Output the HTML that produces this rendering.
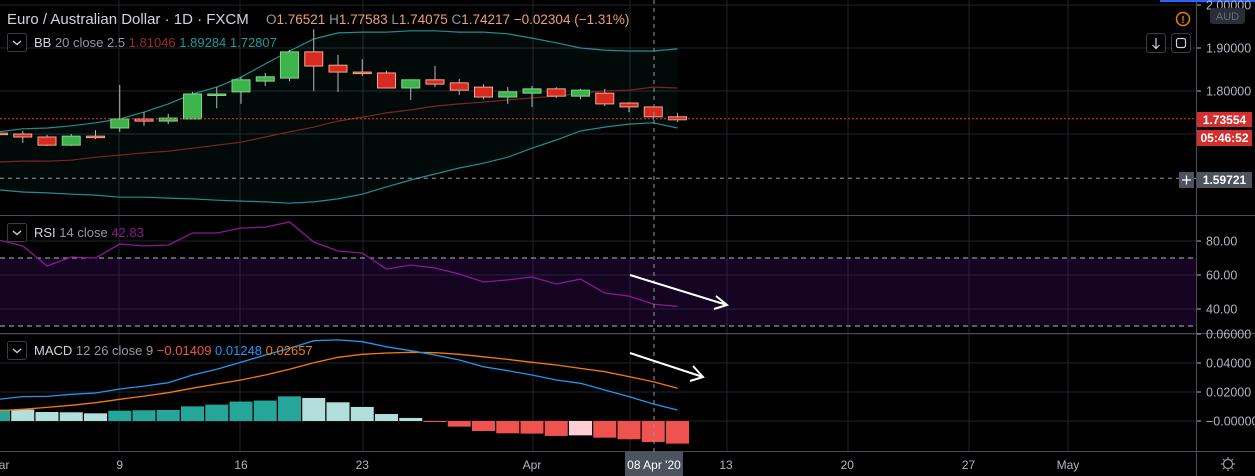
<!DOCTYPE html>
<html><head><meta charset="utf-8"><style>
html,body{margin:0;padding:0;background:#000;width:1255px;height:476px;overflow:hidden;font-family:"Liberation Sans",sans-serif}
svg{display:block}
text{font-family:"Liberation Sans",sans-serif}
</style></head><body>
<svg id="chart" width="1255" height="476" xmlns="http://www.w3.org/2000/svg">
<rect x="0" y="0" width="1255" height="476" fill="#000"/>
<g id="grid"></g>
<g id="main"></g>
<g id="rsi"></g>
<g id="macd"></g>
<g id="overlay"></g>
</svg>
<script>
const opens  = [1.702,1.700,1.693,1.674,1.695,1.714,1.735,1.730,1.735,1.791,1.798,1.823,1.830,1.891,1.860,1.844,1.842,1.807,1.826,1.819,1.809,1.786,1.795,1.805,1.788,1.795,1.772,1.763,1.740];
const highs  = [1.705,1.707,1.698,1.700,1.709,1.814,1.751,1.747,1.798,1.809,1.833,1.842,1.895,1.944,1.884,1.874,1.847,1.826,1.858,1.828,1.816,1.809,1.812,1.809,1.805,1.805,1.774,1.763,1.749];
const lows   = [1.700,1.679,1.672,1.672,1.688,1.705,1.719,1.723,1.735,1.760,1.770,1.812,1.823,1.800,1.798,1.835,1.807,1.779,1.809,1.791,1.781,1.770,1.763,1.784,1.781,1.765,1.751,1.733,1.728];
const closes = [1.701,1.693,1.674,1.695,1.694,1.735,1.730,1.737,1.793,1.793,1.826,1.833,1.891,1.858,1.844,1.842,1.807,1.826,1.816,1.802,1.786,1.798,1.805,1.788,1.802,1.770,1.763,1.740,1.733];
const bbUpper = [1.705,1.712,1.714,1.719,1.726,1.735,1.751,1.770,1.793,1.809,1.832,1.863,1.893,1.921,1.935,1.937,1.937,1.940,1.940,1.937,1.937,1.933,1.923,1.912,1.900,1.895,1.893,1.893,1.898];
const bbMiddle = [1.635,1.637,1.637,1.639,1.646,1.651,1.656,1.660,1.667,1.674,1.681,1.693,1.705,1.716,1.730,1.739,1.749,1.756,1.765,1.770,1.774,1.779,1.784,1.788,1.795,1.800,1.802,1.809,1.807];
const bbLower = [1.570,1.565,1.563,1.560,1.558,1.553,1.553,1.551,1.549,1.546,1.544,1.542,1.539,1.542,1.549,1.560,1.577,1.593,1.607,1.621,1.632,1.646,1.667,1.686,1.707,1.716,1.723,1.726,1.714];
const rsiValues = [80.6,77.1,65.3,70.6,70.0,78.2,77.1,77.6,84.7,84.7,87.6,88.2,91.2,79.4,74.1,72.9,63.5,65.9,64.1,60.6,55.9,57.1,58.8,54.7,57.6,49.4,47.6,42.9,41.5];
const macdLine = [0.0150,0.0168,0.0170,0.0184,0.0193,0.0221,0.0241,0.0264,0.0317,0.0357,0.0405,0.0455,0.0501,0.0554,0.0559,0.0547,0.0512,0.0485,0.0455,0.0421,0.0374,0.0347,0.0317,0.0283,0.0260,0.0214,0.0168,0.0117,0.0076];
const signalLine = [0.0071,0.0081,0.0094,0.0108,0.0126,0.0150,0.0172,0.0195,0.0226,0.0255,0.0283,0.0317,0.0357,0.0402,0.0439,0.0460,0.0469,0.0474,0.0471,0.0460,0.0443,0.0425,0.0405,0.0386,0.0363,0.0340,0.0306,0.0271,0.0226];
const histValues = [0.0079,0.0079,0.0062,0.0060,0.0053,0.0071,0.0074,0.0076,0.0101,0.0113,0.0134,0.0141,0.0170,0.0159,0.0129,0.0097,0.0048,0.0021,-0.0004,-0.0039,-0.0069,-0.0085,-0.0087,-0.0103,-0.0099,-0.0115,-0.0126,-0.0145,-0.0156];
const priceTicks = ["2.00000","1.90000","1.80000"];
const priceTickValues = [2.0,1.9,1.8,1.7];
const rsiTicks = ["80.00","60.00","40.00"];
const rsiTickValues = [80,60,40];
const macdTicks = ["0.06000","0.04000","0.02000","\u22120.00000"];
const macdTickValues = [0.06,0.04,0.02,0];
const timeLabels = ["ar","9","16","23","Apr","13","20","27","May"];
const timeDayIndex = [0,5,10,15,22,30,35,40,44.1];

const NS="http://www.w3.org/2000/svg";
const PLOT_R=1196;
const xB = i => 119.75 + (i-5)*24.25;
const yP = p => 48 + (1.9-p)*430;
const yR = v => 275 + (60-v)*1.7;
const yM = v => 421 - v*1450;
function mk(parent,tag,attrs,name,inter){
  const el=document.createElementNS(NS,tag);
  for(const k in attrs) el.setAttribute(k,attrs[k]);
  
  
  document.getElementById(parent).appendChild(el);
  return el;
}
function txt(parent,x,y,s,fill,size,name,anchor){
  const t=mk(parent,'text',{x:x,y:y,fill:fill,'font-size':size,'text-anchor':anchor||'start'},name,false);
  t.textContent=s; return t;
}
const line=(p,x1,y1,x2,y2,st,w,name,dash)=>{const a={x1:x1,y1:y1,x2:x2,y2:y2,stroke:st,'stroke-width':w||1};if(dash)a['stroke-dasharray']=dash;return mk(p,'line',a,name,false);};
const poly=(arr,yf)=>arr.map((v,i)=>xB(i).toFixed(1)+','+yf(v).toFixed(1)).join(' ');

// grid
const gridC="#22252d";
[119,240,363,533,630,727,848,969,1068].forEach(x=>line('grid',x,0,x,451,gridC,1,'v-grid'));
priceTickValues.forEach(v=>line('grid',0,yP(v),PLOT_R,yP(v),gridC,1,'price-grid'));
rsiTickValues.forEach(v=>line('grid',0,yR(v),PLOT_R,yR(v),gridC,1,'rsi-grid'));
macdTickValues.forEach(v=>line('grid',0,yM(v),PLOT_R,yM(v),gridC,1,'macd-grid'));

// BB fill
const fillPts = poly(bbUpper,yP)+' '+bbLower.map((v,i)=>i).reverse().map(i=>xB(i).toFixed(1)+','+yP(bbLower[i]).toFixed(1)).join(' ');
mk('main','polygon',{points:fillPts,fill:'rgba(38,166,154,0.06)'},'bb-fill',false);
mk('main','polyline',{points:poly(bbUpper,yP),fill:'none',stroke:'#1e8f8f','stroke-width':1.2},'bb-upper',false);
mk('main','polyline',{points:poly(bbLower,yP),fill:'none',stroke:'#1e8f8f','stroke-width':1.2},'bb-lower',false);
mk('main','polyline',{points:poly(bbMiddle,yP),fill:'none',stroke:'#7a2424','stroke-width':1.2},'bb-basis',false);
line('main',0,yP(1.59721),PLOT_R,yP(1.59721),'#9598a1',1,'horizontal-level-line','4,4');

// candles
for(let i=0;i<opens.length;i++){
  const up=closes[i]>=opens[i];
  const x=xB(i);
  line('main',x,yP(highs[i]),x,yP(lows[i]),'#b7b7b7',1,'candle-wick');
  const top=yP(Math.max(opens[i],closes[i])), bot=yP(Math.min(opens[i],closes[i]));
  mk('main','rect',{x:x-9,y:top,width:18,height:Math.max(bot-top,1.5),fill:up?'#3cb44b':'#d92a22',stroke:up?'#7fd68a':'#f5a58a','stroke-width':1},'candle',true);
}
line('main',0,yP(1.73554),PLOT_R,yP(1.73554),'#e53935',1,'last-price-line','2,2');

// RSI
mk('rsi','rect',{x:0,y:yR(70),width:PLOT_R,height:yR(30)-yR(70),fill:'rgba(90,20,150,0.22)'},'rsi-band',false);
line('rsi',0,yR(70),PLOT_R,yR(70),'#b0b3bb',1,'rsi-upper-band','5,4');
line('rsi',0,yR(30),PLOT_R,yR(30),'#b0b3bb',1,'rsi-lower-band','5,4');
mk('rsi','polyline',{points:poly(rsiValues,yR),fill:'none',stroke:'#8e1599','stroke-width':1.3},'rsi-line',false);

// MACD
histValues.forEach((v,i)=>{
  const prev=i>0?histValues[i-1]:v;
  let c;
  if(v>=0) c=(v>=prev&&i!==1)?'#26a69a':'#b2dfdb';
  else c=(v<=prev)?'#ef5350':'#ffcdd2';
  if(i===0) c='#26a69a';
  const y0=yM(0), y1=yM(v);
  const r=mk('macd','rect',{x:xB(i)-11.5,y:Math.min(y0,y1),width:23,height:Math.max(Math.abs(y1-y0),1)},'macd-histogram-bar',true);
  r.setAttribute('fill',c);
});
mk('macd','polyline',{points:poly(signalLine,yM),fill:'none',stroke:'#f57c00','stroke-width':1.3},'signal-line',false);
mk('macd','polyline',{points:poly(macdLine,yM),fill:'none',stroke:'#2196f3','stroke-width':1.3},'macd-line',false);

// pane separators and right axis
line('overlay',0,215.5,1255,215.5,'#4a4d56',1,'pane-separator');
line('overlay',0,333.5,1255,333.5,'#4a4d56',1,'pane-separator');
line('overlay',0,451.5,1255,451.5,'#4a4d56',1,'pane-separator');
line('overlay',1196.5,0,1196.5,476,'#4a4d56',1,'price-axis-border');
line('overlay',1160,1,1255,1,'#2962ff',2,'top-accent');
line('overlay',654,0,654,452,'#9598a1',1,'crosshair-vertical','4,4');

// axis labels
const axC="#b2b5be";
priceTickValues.slice(0,3).forEach((v,i)=>{line('overlay',1197,yP(v),1201,yP(v),axC,1,'price-tick');txt('overlay',1206,yP(v)+4.5,priceTicks[i],axC,12.5,'price-tick-label');});
rsiTickValues.forEach((v,i)=>{line('overlay',1197,yR(v),1201,yR(v),axC,1,'rsi-tick');txt('overlay',1206,yR(v)+4.5,rsiTicks[i],axC,12.5,'rsi-tick-label');});
macdTickValues.forEach((v,i)=>{line('overlay',1197,yM(v),1201,yM(v),axC,1,'macd-tick');txt('overlay',1206,yM(v)+4.5,macdTicks[i],axC,12.5,'macd-tick-label');});
timeLabels.forEach((s,i)=>txt('overlay',Math.max(xB(timeDayIndex[i]),4),469,s,axC,12,'time-label','middle'));
</script>
<svg width="1255" height="476" style="position:absolute;left:0;top:0" xmlns="http://www.w3.org/2000/svg">
<text x="7" y="24" fill="#d1d4dc" font-size="15">Euro / Australian Dollar · 1D · FXCM</text>
<text x="266" y="24" font-size="13.5"><tspan fill="#9598a1">O</tspan><tspan fill="#f0a070">1.76521 </tspan><tspan fill="#9598a1">H</tspan><tspan fill="#f0a070">1.77583 </tspan><tspan fill="#9598a1">L</tspan><tspan fill="#f0a070">1.74075 </tspan><tspan fill="#9598a1">C</tspan><tspan fill="#f0a070">1.74217 −0.02304 (−1.31%)</tspan></text>
<rect x="7.5" y="33.5" width="19" height="18" rx="2" fill="#000" stroke="#3a3d45"/>
<path d="M13 41 l4 3.5 l4 -3.5" fill="none" stroke="#d1d4dc" stroke-width="1.3"/>
<text x="34" y="47" font-size="13"><tspan fill="#d1d4dc">BB</tspan><tspan fill="#9598a1"> 20 close 2.5 </tspan><tspan fill="#9a2b2b"> 1.81046 </tspan><tspan fill="#1f9a9a"> 1.89284 1.72807</tspan></text>
<rect x="7.5" y="223.5" width="19" height="18" rx="2" fill="#000" stroke="#3a3d45"/>
<path d="M13 231 l4 3.5 l4 -3.5" fill="none" stroke="#d1d4dc" stroke-width="1.3"/>
<text x="34" y="237" font-size="13"><tspan fill="#d1d4dc">RSI</tspan><tspan fill="#9598a1"> 14 close </tspan><tspan fill="#8e1599"> 42.83</tspan></text>
<rect x="7.5" y="341.5" width="19" height="18" rx="2" fill="#000" stroke="#3a3d45"/>
<path d="M13 349 l4 3.5 l4 -3.5" fill="none" stroke="#d1d4dc" stroke-width="1.3"/>
<text x="34" y="355" font-size="13"><tspan fill="#d1d4dc">MACD</tspan><tspan fill="#9598a1"> 12 26 close 9 </tspan><tspan fill="#ef5350"> −0.01409 </tspan><tspan fill="#2196f3"> 0.01248 </tspan><tspan fill="#f57c00"> 0.02657</tspan></text>
<g stroke="#ffffff" stroke-width="2" fill="none"><path d="M630 275 L727 305"/><path d="M716 296 L727 305 L714 309"/></g>
<g stroke="#ffffff" stroke-width="2" fill="none"><path d="M630 353 L703 377"/><path d="M693 366 L703 377 L690 381"/></g>
<circle cx="1183" cy="19" r="6.5" fill="none" stroke="#f57c00" stroke-width="1.5"/>
<text x="1183" y="23" fill="#f57c00" font-size="10" font-weight="bold" text-anchor="middle">!</text>
<rect x="1210" y="8" width="35" height="16" rx="3" fill="#2a2e39"/>
<text x="1227.5" y="20" fill="#6a6d78" font-size="11" text-anchor="middle">AUD</text>
<rect x="1146.5" y="33.5" width="19" height="19" rx="3" fill="#000" stroke="#3a3d45"/>
<path d="M1156 38 v10 M1152.5 45 l3.5 3.5 l3.5 -3.5" stroke="#d1d4dc" fill="none" stroke-width="1.2"/>
<rect x="1171.5" y="33.5" width="19" height="19" rx="3" fill="#000" stroke="#3a3d45"/>
<rect x="1176.5" y="38.5" width="9" height="9" rx="2" fill="none" stroke="#d1d4dc" stroke-width="1.2"/>
<rect x="1197" y="112" width="55" height="15" fill="#d32f2f"/>
<text x="1224.5" y="124" fill="#fff" font-size="12" font-weight="bold" text-anchor="middle">1.73554</text>
<rect x="1197" y="130" width="55" height="16" fill="#d32f2f"/>
<text x="1224.5" y="142" fill="#fff" font-size="12" font-weight="bold" text-anchor="middle">05:46:52</text>
<rect x="1179" y="172" width="15" height="16" fill="#4c525e"/>
<path d="M1182 180 h9 M1186.5 175.5 v9" stroke="#fff" stroke-width="1.3"/>
<rect x="1197" y="172" width="55" height="16" fill="#4c525e"/>
<text x="1224.5" y="184" fill="#fff" font-size="12" font-weight="bold" text-anchor="middle">1.59721</text>
<rect x="625" y="452" width="58" height="24" fill="#4c525e"/>
<text x="654" y="469" fill="#fff" font-size="12" text-anchor="middle">08 Apr '20</text>
<g stroke="#9598a1" fill="none" stroke-width="1.2"><circle cx="1228" cy="464" r="4.5"/><path d="M1228 457 v2 M1228 469 v2 M1221 464 h2 M1233 464 h2 M1223 459 l1.5 1.5 M1231.5 467.5 l1.5 1.5 M1223 469 l1.5 -1.5 M1231.5 460.5 l1.5 -1.5"/></g>
</svg>
</body></html>
